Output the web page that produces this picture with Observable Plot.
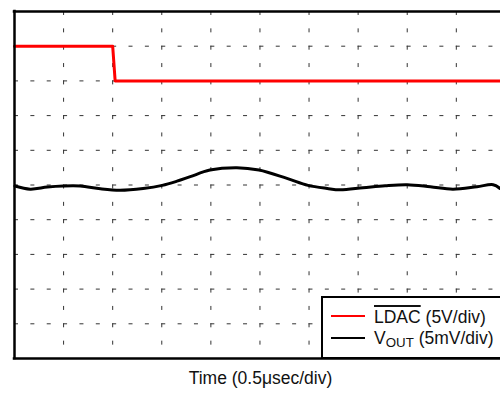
<!DOCTYPE html>
<html>
<head>
<meta charset="utf-8">
<script src="https://cdn.jsdelivr.net/npm/d3@7"></script>
<script src="https://cdn.jsdelivr.net/npm/@observablehq/plot@0.6"></script>
<style>
  html, body { margin: 0; padding: 0; background: #fff; overflow: hidden; }
  #wrap { position: relative; width: 500px; height: 415px; overflow: hidden; }
  #legend {
    position: absolute; left: 321px; top: 296px; width: 200px; height: 63px;
    box-sizing: border-box; border: 2.5px solid #000; background: #fff;
    font-family: "Liberation Sans", Arial, sans-serif; font-size: 17.5px; color: #111;
  }
  .sw { position: absolute; left: 8px; width: 34px; height: 0; }
  .lbl { position: absolute; left: 51px; line-height: 1; white-space: nowrap; }
  .ov { text-decoration: overline; text-decoration-thickness: 2px; }
  .sub { font-size: 0.76em; position: relative; top: 3px; }
</style>
</head>
<body>
<div id="wrap">
  <div id="chart"></div>
  <div id="legend"></div>
</div>
<script>
// Time in divisions (0.5 µs/div), levels in screen divisions from bottom
const gridTicks = [1, 2, 3, 4, 5, 6, 7, 8, 9];
const ldacTime  = [0, 2.0, 2.05, 9.9];
const ldacLevel = [9, 9, 8, 8];
const voutTime  = [0.01, 0.32, 0.67, 0.99, 1.34, 1.75, 2.15, 2.62, 3.01, 3.31, 3.58, 3.98, 4.53, 4.98, 5.55, 5.98, 6.37, 6.63, 7.10, 7.55, 8.00, 8.47, 8.93, 9.42, 9.75, 9.89];
const voutLevel = [4.97, 4.88, 4.94, 4.97, 4.97, 4.89, 4.85, 4.90, 4.99, 5.11, 5.24, 5.43, 5.50, 5.43, 5.19, 4.99, 4.90, 4.86, 4.92, 4.98, 5.01, 4.95, 4.88, 4.95, 5.01, 4.90];
const xLabel = "Time (0.5\u03BCsec/div)";
const seriesNames = ["LDAC", "VOUT"];
const seriesColors = ["#ff0000", "#000000"];

const ldac = ldacTime.map((t, i) => ({t, v: ldacLevel[i]}));
const vout = voutTime.map((t, i) => ({t, v: voutLevel[i]}));

const chart = Plot.plot({
  width: 500, height: 415,
  marginLeft: 14, marginRight: 0, marginTop: 11, marginBottom: 57,
  x: {domain: [0, 9.9], axis: null},
  y: {domain: [0, 10], axis: null},
  style: {fontFamily: "Liberation Sans, Arial, sans-serif", background: "#fff"},
  marks: [
    Plot.ruleY(gridTicks, {stroke: "#333", strokeWidth: 1, strokeDasharray: "4,12.36"}),
    Plot.ruleX(gridTicks, {stroke: "#333", strokeWidth: 1, strokeDasharray: "4,13.35"}),
    Plot.line(vout, {x: "t", y: "v", stroke: seriesColors[1], strokeWidth: 3, curve: "catmull-rom"}),
    Plot.line(ldac, {x: "t", y: "v", stroke: seriesColors[0], strokeWidth: 3}),
    Plot.ruleX([0], {stroke: "#000", strokeWidth: 2.5, strokeLinecap: "square"}),
    Plot.ruleY([0, 10], {stroke: "#000", strokeWidth: 2.5, strokeLinecap: "square"}),
    Plot.text([xLabel], {frameAnchor: "bottom", dy: 25, dx: 3, fontSize: 17.5, fill: "#111"})
  ]
});
document.getElementById("chart").appendChild(chart);

const legend = document.getElementById("legend");
legend.innerHTML = `
  <div class="sw" style="top:17px;border-top:2px solid ${seriesColors[0]}"></div>
  <div class="lbl" style="top:11px"><span class="ov">${seriesNames[0]}</span> (5V/div)</div>
  <div class="sw" style="top:39px;border-top:2px solid ${seriesColors[1]}"></div>
  <div class="lbl" style="top:32px">V<span class="sub">OUT</span> (5mV/div)</div>
`;
</script>
</body>
</html>
